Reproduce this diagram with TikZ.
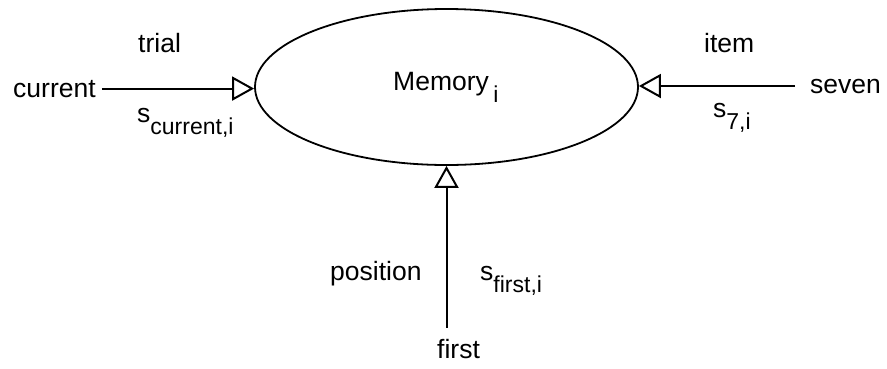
\documentclass[tikz,border=0pt]{standalone}
\usepackage{fontspec}
\setmainfont{Liberation Sans}
\usetikzlibrary{arrows.meta,shapes.geometric}
\begin{document}
\begin{tikzpicture}[x=1pt,y=-1pt,
 lbl/.style={font=\fontsize{26.5}{30}\selectfont, inner sep=0pt, anchor=base west},
 conn/.style={line width=2pt, -{Triangle[open,length=22pt,width=24pt,line width=2pt]}},
 memstyle/.style={draw, ellipse, line width=1.8pt, minimum width=383pt, minimum height=156pt, inner sep=0pt}]
\newcommand{\subtxt}[1]{\raisebox{-12pt}{\fontsize{23}{26}\selectfont #1}}
\useasboundingbox (0,0) rectangle (887,368);
\node[memstyle] (memory) at (446.5,87) {};
\node[lbl] (memlabel) at (393,90) {Memory\,\subtxt{i}};
% left input
\node[lbl] (cur) at (13,97) {current};
\node[lbl] (trial) at (138,52) {trial};
\node[lbl] (scur) at (137,122) {s\subtxt{current,i}};
\draw[conn, shorten <=6pt] (cur.east) -- (cur.east -| memory.west);
% right input
\node[lbl] (sev) at (810,93) {seven};
\node[lbl] (item) at (704,52) {item};
\node[lbl] (sseven) at (713,117) {s\subtxt{7,i}};
\draw[conn, shorten <=15pt] (sev.west) -- (sev.west -| memory.east);
% bottom input
\node[lbl] (fst) at (437,358) {first};
\node[lbl] (pos) at (330,280) {position};
\node[lbl] (sfirst) at (480,280) {s\subtxt{first,i}};
\draw[conn, shorten <=11pt] (memory.south |- fst.north) -- (memory.south);
\end{tikzpicture}
\end{document}
